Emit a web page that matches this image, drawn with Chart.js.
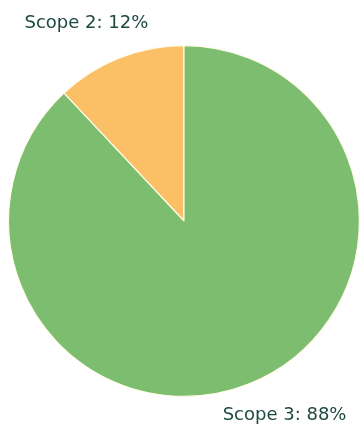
<!DOCTYPE html>
<html>
<head>
<meta charset="utf-8">
<style>
  html, body { margin: 0; padding: 0; background: #ffffff; }
  #wrap { width: 360px; height: 425px; }
</style>
<script src="https://cdn.jsdelivr.net/npm/chart.js@4/dist/chart.umd.min.js"></script>
</head>
<body>
<div id="wrap"><canvas id="chart" width="360" height="425"></canvas></div>
<script>
const categories = ['Scope 2', 'Scope 3'];
const shares = [12, 88];
const sliceColors = ['#fbbf66', '#7dbd6f'];

// Outside labels: "Name: value%" placed diagonally off each slice's mid-angle
const outsideLabels = {
  id: 'outsideLabels',
  afterDatasetsDraw(chart) {
    const ctx = chart.ctx;
    const meta = chart.getDatasetMeta(0);
    ctx.save();
    ctx.font = '18px "DejaVu Sans", sans-serif';
    ctx.fillStyle = '#1e4940';
    ctx.textAlign = 'center';
    ctx.textBaseline = 'middle';
    meta.data.forEach((arc, i) => {
      const p = arc.getProps(['x', 'y', 'startAngle', 'endAngle', 'outerRadius'], true);
      const mid = (p.startAngle + p.endAngle) / 2;
      const ax = p.x + Math.cos(mid) * p.outerRadius;
      const ay = p.y + Math.sin(mid) * p.outerRadius;
      const dx = Math.cos(mid) >= 0 ? 36 : -33;
      const dy = Math.sin(mid) >= 0 ? 31 : -35;
      ctx.fillText(categories[i] + ': ' + shares[i] + '%', ax + dx, ay + dy);
    });
    ctx.restore();
  }
};

new Chart(document.getElementById('chart'), {
  type: 'pie',
  data: {
    labels: categories,
    datasets: [{
      data: shares,
      backgroundColor: sliceColors,
      borderColor: '#fffbe8',
      borderWidth: 1.2
    }]
  },
  options: {
    responsive: false,
    animation: false,
    rotation: -43.2,
    layout: { padding: { top: 45, bottom: 28, left: 8, right: 0 } },
    plugins: {
      legend: { display: false },
      tooltip: { enabled: false }
    }
  },
  plugins: [outsideLabels]
});
</script>
</body>
</html>
